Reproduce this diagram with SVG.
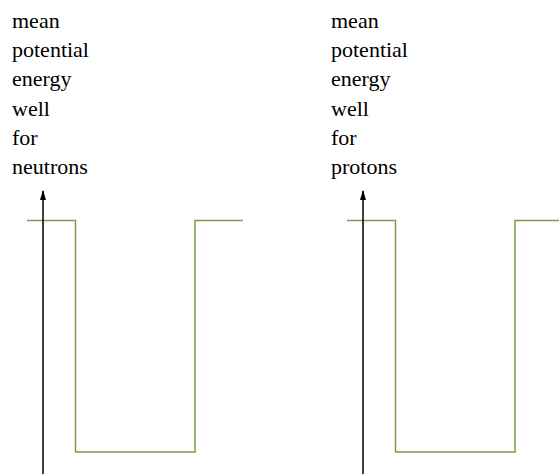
<svg xmlns="http://www.w3.org/2000/svg" width="559" height="474" viewBox="0 0 559 474">
<defs>
<style>
text{font-family:"Liberation Serif","Times New Roman","DejaVu Serif",serif;font-size:22px;fill:#000}
.well{fill:none;stroke:#77a043;stroke-width:1.5}
.axis{stroke:#000;stroke-width:1.5;fill:none}
</style>
<marker id="arr" markerWidth="10" markerHeight="8" refX="9" refY="4" orient="auto" markerUnits="userSpaceOnUse" viewBox="0 0 10 8">
<path d="M0,1 L10,4 L0,7 Z" fill="#000"/>
</marker>
</defs>
<g id="neutrons">
<text x="12" y="28">mean</text>
<text x="12" y="57.2">potential</text>
<text x="12" y="86.4">energy</text>
<text x="12" y="115.6">well</text>
<text x="12" y="144.8">for</text>
<text x="12" y="174">neutrons</text>
<polyline class="well" points="27,220.5 75.5,220.5 75.5,452 195,452 195,220.5 243,220.5"/>
</g>
<g id="protons">
<text x="331" y="28">mean</text>
<text x="331" y="57.2">potential</text>
<text x="331" y="86.4">energy</text>
<text x="331" y="115.6">well</text>
<text x="331" y="144.8">for</text>
<text x="331" y="174">protons</text>
<polyline class="well" points="347,220.5 395.5,220.5 395.5,452 515,452 515,220.5 559,220.5"/>
</g>
<g id="connectors">
<line class="axis" x1="43" y1="474" x2="43" y2="191" marker-end="url(#arr)"/>
<line class="axis" x1="363" y1="474" x2="363" y2="191" marker-end="url(#arr)"/>
</g>
</svg>
